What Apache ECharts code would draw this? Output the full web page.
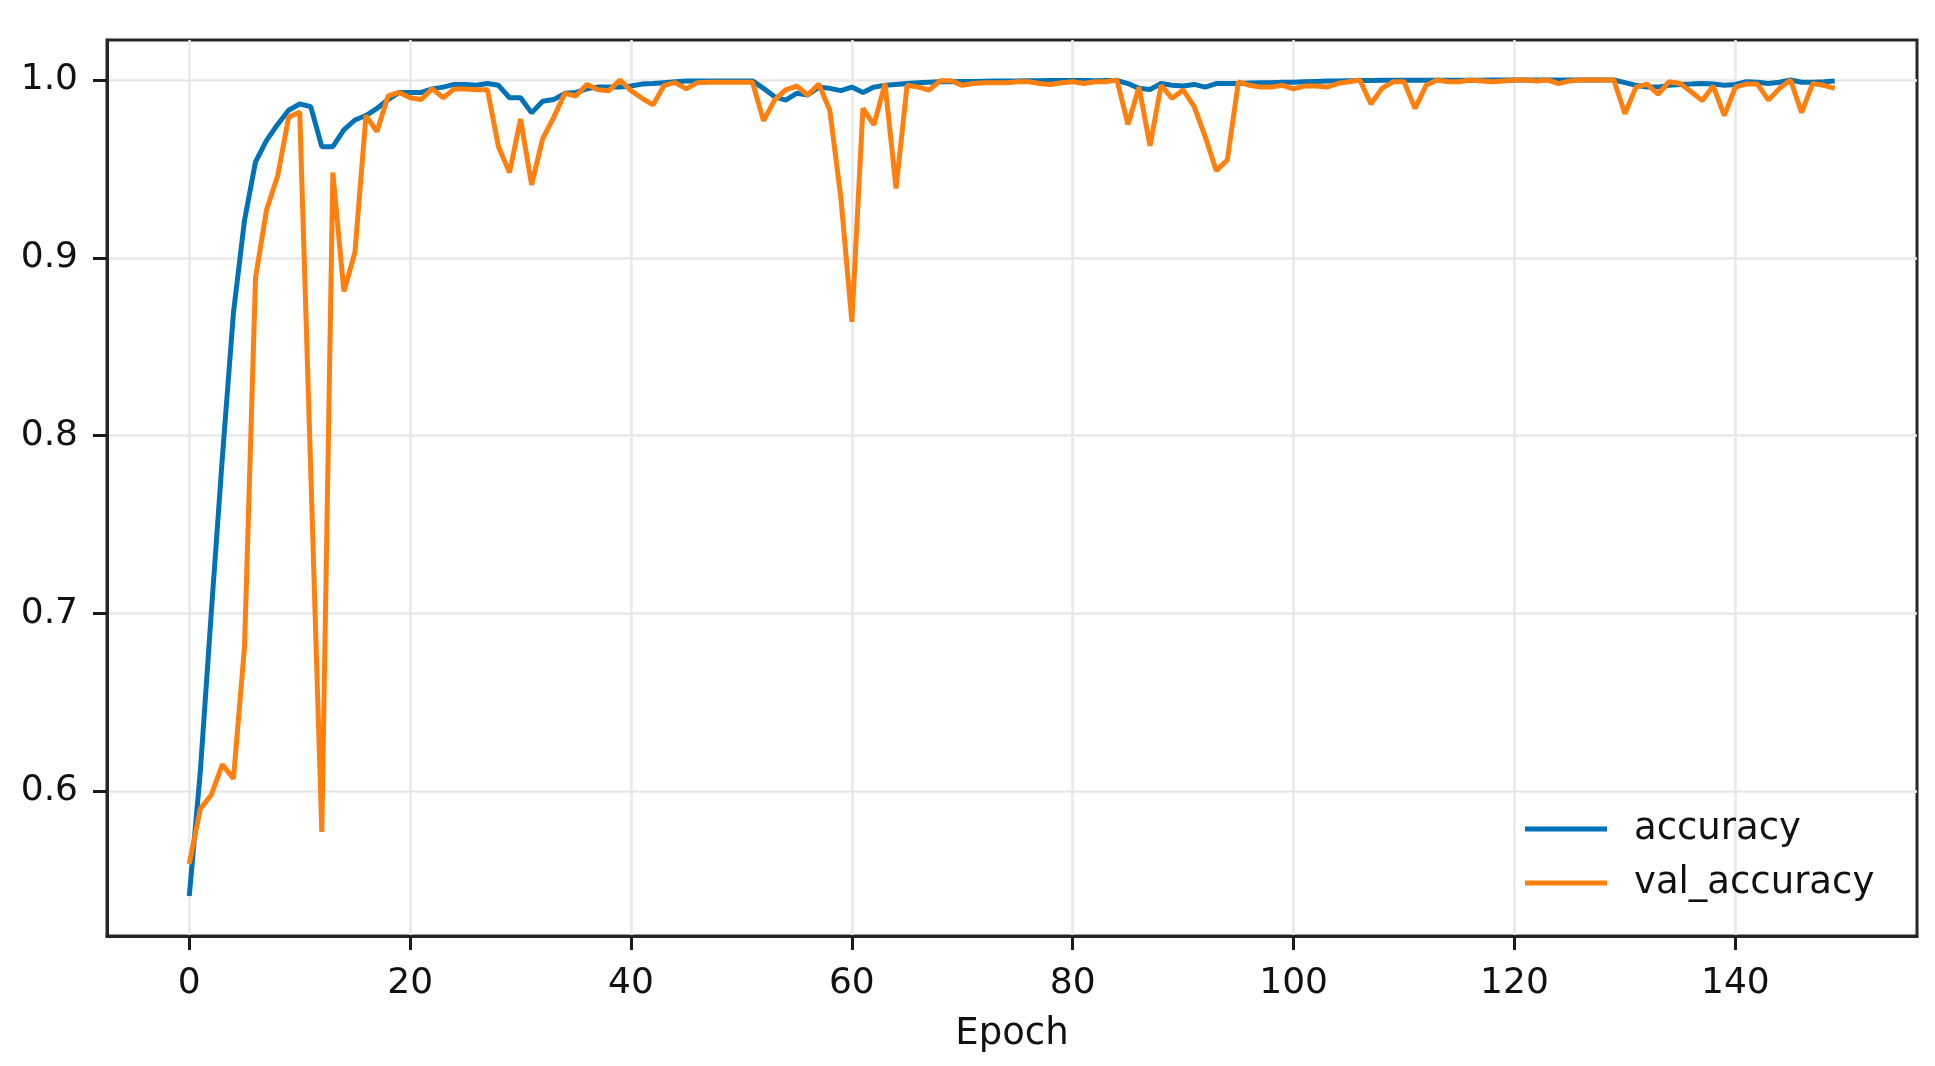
<!DOCTYPE html>
<html>
<head>
<meta charset="utf-8">
<script src="https://cdn.jsdelivr.net/npm/echarts@6/dist/echarts.min.js"></script>
<style>
  html, body { margin: 0; padding: 0; background: #fff; }
  #chart { width: 1935px; height: 1066px; }
</style>
</head>
<body>
<div id="chart"></div>
<script>
// training accuracy per epoch (0..149)
const accuracy = [
  0.541, 0.611, 0.701, 0.788, 0.869, 0.921, 0.954, 0.966, 0.975, 0.983,
  0.9865, 0.985, 0.9625, 0.9625, 0.972, 0.9775, 0.980, 0.984, 0.989, 0.993,
  0.993, 0.993, 0.995, 0.996, 0.9975, 0.9975, 0.997, 0.998, 0.997, 0.990,
  0.990, 0.9815, 0.988, 0.989, 0.9925, 0.993, 0.995, 0.996, 0.996, 0.996,
  0.9966, 0.9977, 0.998, 0.9985, 0.999, 0.9995, 0.9995, 0.9995, 0.9995, 0.9995,
  0.9995, 0.9995, 0.9953, 0.9906, 0.9887, 0.9925, 0.9916, 0.996, 0.9953, 0.994,
  0.996, 0.993, 0.996, 0.997, 0.9975, 0.998, 0.9985, 0.9988, 0.999, 0.999,
  0.9992, 0.9992, 0.9993, 0.9994, 0.9995, 0.9995, 0.9996, 0.9996, 0.9997, 0.9997,
  0.9997, 0.9997, 0.9996, 0.9997, 0.9997, 0.998, 0.9953, 0.9947, 0.998, 0.997,
  0.9966, 0.9975, 0.996, 0.998, 0.998, 0.998, 0.9983, 0.9985, 0.9985, 0.9987,
  0.9988, 0.999, 0.9992, 0.9994, 0.9995, 0.9996, 0.9997, 0.9997, 0.9998, 0.9998,
  0.9998, 0.9998, 0.9999, 0.9999, 0.9999, 0.9999, 0.9999, 0.9999, 1.0, 1.0,
  1.0, 1.0, 1.0, 1.0, 1.0, 1.0, 1.0, 1.0, 1.0, 1.0,
  0.9985, 0.997, 0.996, 0.996, 0.997, 0.9975, 0.9977, 0.998, 0.9977, 0.997,
  0.9975, 0.999, 0.9987, 0.998, 0.9987, 1.0, 0.9987, 0.9987, 0.999, 0.9994
]

// validation accuracy per epoch
const valAccuracy = [
  0.559, 0.590, 0.598, 0.615, 0.607, 0.681, 0.889, 0.927, 0.946, 0.979,
  0.982, 0.780, 0.577, 0.948, 0.881, 0.903, 0.980, 0.971, 0.991, 0.993,
  0.990, 0.989, 0.995, 0.990, 0.995, 0.995, 0.9945, 0.9945, 0.9625, 0.948,
  0.978, 0.941, 0.967, 0.979, 0.9925, 0.991, 0.9975, 0.9945, 0.994, 1.000,
  0.994, 0.9897, 0.986, 0.997, 0.9985, 0.995, 0.9985, 0.9987, 0.9987, 0.9987,
  0.9987, 0.9987, 0.977, 0.9887, 0.9944, 0.9966, 0.9916, 0.9977, 0.983, 0.934,
  0.864, 0.984, 0.9747, 0.998, 0.939, 0.997, 0.996, 0.9944, 0.9996, 0.9996,
  0.997, 0.998, 0.9985, 0.9985, 0.9985, 0.999, 0.999, 0.998, 0.9975, 0.9985,
  0.999, 0.998, 0.999, 0.999, 1.000, 0.975, 0.996, 0.963, 0.997, 0.9897,
  0.9944, 0.985, 0.968, 0.949, 0.955, 0.999, 0.997, 0.996, 0.996, 0.997,
  0.995, 0.9966, 0.9966, 0.996, 0.998, 0.999, 1.000, 0.9865, 0.9953, 0.999,
  0.999, 0.984, 0.997, 1.000, 0.999, 0.999, 1.000, 0.9995, 0.999, 0.9995,
  1.000, 1.000, 0.9995, 1.000, 0.998, 0.9995, 1.000, 1.000, 1.000, 1.000,
  0.981, 0.996, 0.9977, 0.992, 0.999, 0.998, 0.9934, 0.9884, 0.9966, 0.980,
  0.996, 0.9977, 0.9977, 0.9887, 0.9953, 1.000, 0.9816, 0.998, 0.997, 0.9953
]

// tick labels
const xTicks = [0, 20, 40, 60, 80, 100, 120, 140]
const yTicks = [0.6, 0.7, 0.8, 0.9, 1.0]

const chart = echarts.init(document.getElementById('chart'))

const font = 'DejaVu Sans'
const tickColor = '#1a1a1a'

const option = {
  animation: false,
  backgroundColor: '#fff',
  textStyle: { fontFamily: font },
  grid: {
    left: 107,
    right: 18,
    top: 40,
    bottom: 130,
    show: true,
    borderColor: '#262626',
    borderWidth: 3,
    containLabel: false,
    outerBoundsMode: 'none'
  },
  legend: {
    orient: 'vertical',
    left: 1520,
    top: 804,
    itemWidth: 82,
    itemHeight: 5,
    itemGap: 14,
    icon: 'rect',
    textStyle: {
      fontFamily: font,
      fontSize: 37,
      color: '#111',
      lineHeight: 40,
      padding: [0, 0, 0, 22]
    },
    data: ['accuracy', 'val_accuracy']
  },
  xAxis: {
    type: 'value',
    min: -7.45,
    max: 156.45,
    name: 'Epoch',
    nameLocation: 'middle',
    nameGap: 80,
    nameTextStyle: { fontFamily: font, fontSize: 37, color: '#111' },
    axisLine: { show: true, onZero: false, lineStyle: { color: '#262626', width: 3 } },
    axisTick: {
      show: true,
      length: 14,
      customValues: xTicks,
      lineStyle: { color: tickColor, width: 3 }
    },
    axisLabel: {
      customValues: xTicks,
      margin: 30,
      fontFamily: font,
      fontSize: 36,
      color: '#111'
    },
    splitLine: {
      show: true,
      lineStyle: { color: '#e8e8e8', width: 2.5 }
    }
  },
  yAxis: {
    type: 'value',
    min: 0.5185,
    max: 1.0225,
    axisLine: { show: true, onZero: false, lineStyle: { color: '#262626', width: 3 } },
    axisTick: {
      show: true,
      length: 14,
      customValues: yTicks,
      lineStyle: { color: tickColor, width: 3 }
    },
    axisLabel: {
      customValues: yTicks,
      margin: 29,
      fontFamily: font,
      fontSize: 36,
      color: '#111',
      formatter: v => v.toFixed(1)
    },
    splitLine: {
      show: true,
      lineStyle: { color: '#e8e8e8', width: 2.5 }
    }
  },
  series: [
    {
      name: 'accuracy',
      type: 'line',
      symbol: 'none',
      color: '#0072B5',
      lineStyle: { width: 5, color: '#0072B5' },
      data: accuracy.map((v, i) => [i, v])
    },
    {
      name: 'val_accuracy',
      type: 'line',
      symbol: 'none',
      color: '#FF800E',
      lineStyle: { width: 5, color: '#FF800E' },
      data: valAccuracy.map((v, i) => [i, v])
    }
  ]
}

chart.setOption(option)
</script>
</body>
</html>
